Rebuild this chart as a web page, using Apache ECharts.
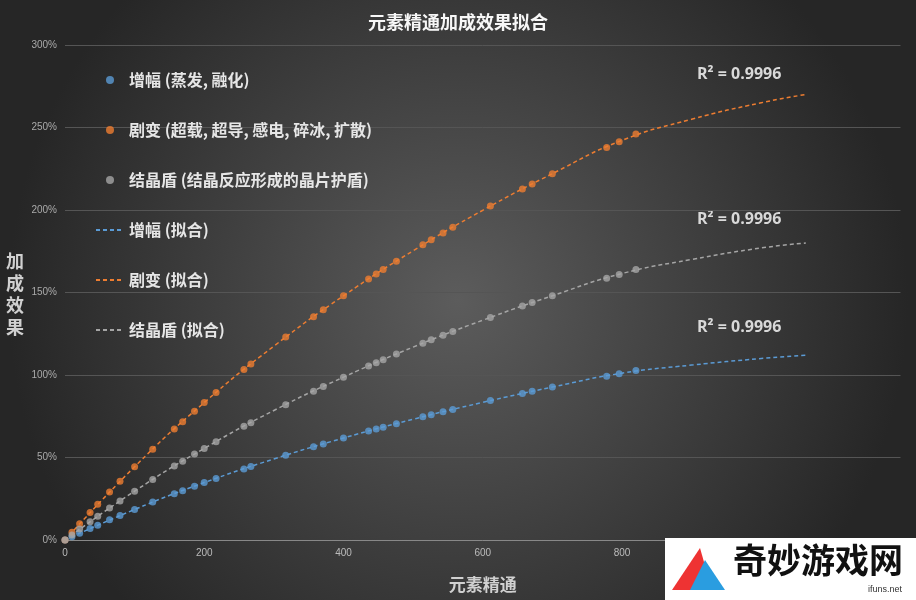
<!DOCTYPE html>
<html><head><meta charset="utf-8">
<script src="https://cdn.jsdelivr.net/npm/echarts@6/dist/echarts.min.js"></script>
<style>html,body{margin:0;padding:0}#c{width:916px;height:600px}</style>
</head><body><div id="c"></div>
<script>
const em = [0,10,21,36,47,64,79,100,126,157,169,186,200,217,257,267,317,357,371,400,436,447,457,476,514,526,543,557,611,657,671,700,778,796,820];
const amp = [0,.020,.041,.070,.090,.122,.148,.185,.230,.280,.299,.326,.348,.373,.431,.445,.513,.565,.582,.618,.660,.673,.684,.705,.747,.759,.777,.791,.845,.888,.901,.927,.993,1.008,1.027];
const trans = [0,.047,.098,.167,.216,.291,.356,.444,.550,.672,.717,.781,.833,.894,1.033,1.067,1.230,1.353,1.395,1.480,1.582,1.612,1.639,1.690,1.789,1.819,1.861,1.896,2.024,2.127,2.158,2.220,2.379,2.414,2.460];
const cryst = [0,.031,.066,.111,.144,.194,.237,.296,.367,.448,.478,.521,.555,.596,.689,.711,.820,.902,.930,.987,1.054,1.075,1.093,1.127,1.192,1.213,1.241,1.264,1.349,1.418,1.439,1.480,1.586,1.609,1.640];
const fitX = [0,100,200,300,400,500,600,700,800,900,1000,1064];
const fitAmp = [0,.185,.348,.491,.618,.732,.834,.927,1.011,1.06,1.10,1.12];
const fitTrans = [0,.444,.833,1.175,1.480,1.753,1.998,2.220,2.422,2.55,2.65,2.70];
const fitCryst = [0,.296,.555,.785,.987,1.169,1.332,1.480,1.615,1.70,1.77,1.80];
const r2 = ['R² = 0.9996','R² = 0.9996','R² = 0.9996'];
const names = ['增幅 (蒸发, 融化)','剧变 (超载, 超导, 感电, 碎冰, 扩散)','结晶盾 (结晶反应形成的晶片护盾)','增幅 (拟合)','剧变 (拟合)','结晶盾 (拟合)'];
const C = ['#5b9bd5','#ed7d31','#a5a5a5'];
const zip=(a,b)=>a.map((v,i)=>[v,b[i]]);
const ch = echarts.init(document.getElementById('c'));
const sc=(n,d,c)=>({name:n,type:'scatter',data:zip(em,d),symbolSize:7,itemStyle:{color:c},z:5});
const ln=(n,d,c)=>({name:n,type:'line',data:zip(fitX,d),smooth:true,symbol:'none',lineStyle:{color:c,type:[4,3],width:1.5},itemStyle:{color:c}});
ch.setOption({
  backgroundColor:{type:'radial',x:0.5,y:0.5,r:0.75,colorStops:[{offset:0,color:'#5c5c5c'},{offset:1,color:'#262626'}]},
  title:{text:'元素精通加成效果拟合',left:'center',top:8,textStyle:{color:'#f7f7f7',fontSize:18,fontWeight:'bold',fontFamily:'Noto Sans CJK SC'}},
  grid:{left:65,right:11,top:45,bottom:60},
  legend:{orient:'vertical',left:90,top:67,itemGap:34,itemWidth:28,itemHeight:8,
    textStyle:{color:'#e6e6e6',fontSize:16,fontWeight:'bold',fontFamily:'Noto Sans CJK SC'},
    data:names.map((n,i)=>i<3?{name:n,icon:'circle',itemStyle:{color:C[i]}}:{name:n,itemStyle:{opacity:0}})},
  xAxis:{type:'value',min:0,max:1200,interval:200,splitLine:{show:false},
    axisLine:{lineStyle:{color:'#888'}},axisTick:{show:false},
    axisLabel:{color:'#bbb',fontSize:10},
    name:'元素精通',nameLocation:'middle',nameGap:36,nameTextStyle:{color:'#d0d0d0',fontSize:17,fontWeight:'bold',fontFamily:'Noto Sans CJK SC'}},
  yAxis:{type:'value',min:0,max:3,interval:0.5,
    splitLine:{lineStyle:{color:'#555'}},axisLine:{show:false},axisTick:{show:false},
    axisLabel:{color:'#aaa',fontSize:10,formatter:v=>Math.round(v*100)+'%'}},
  graphic:[
    {type:'text',left:6,top:250,style:{text:'加\n成\n效\n果',fill:'#d0d0d0',font:'bold 18px "Noto Sans CJK SC"',lineHeight:22}},
    {type:'text',left:697,top:66,style:{text:r2[0],fill:'#d9d9d9',font:'bold 16px "Open Sans"'}},
    {type:'text',left:697,top:211,style:{text:r2[1],fill:'#d9d9d9',font:'bold 16px "Open Sans"'}},
    {type:'text',left:697,top:319,style:{text:r2[2],fill:'#d9d9d9',font:'bold 16px "Open Sans"'}},
    {type:'rect',left:665,top:538,shape:{width:251,height:62},style:{fill:'#fff'},z:100},
    {type:'text',left:733,top:543,style:{text:'奇妙游戏网',fill:'#111',font:'bold 34px "Noto Sans CJK SC"'},z:101},
    {type:'text',left:868,top:585,style:{text:'ifuns.net',fill:'#333',font:'9px sans-serif'},z:101},
    {type:'polygon',shape:{points:[[672,590],[700,548],[712,590]]},style:{fill:'#e33'},z:101},
    {type:'polygon',shape:{points:[[690,590],[705,560],[725,590]]},style:{fill:'#2a9de0'},z:101}
  ],
  series:[sc(names[0],amp,C[0]),sc(names[1],trans,C[1]),sc(names[2],cryst,C[2]),
    ln(names[3],fitAmp,C[0]),ln(names[4],fitTrans,C[1]),ln(names[5],fitCryst,C[2])]
});
</script></body></html>
